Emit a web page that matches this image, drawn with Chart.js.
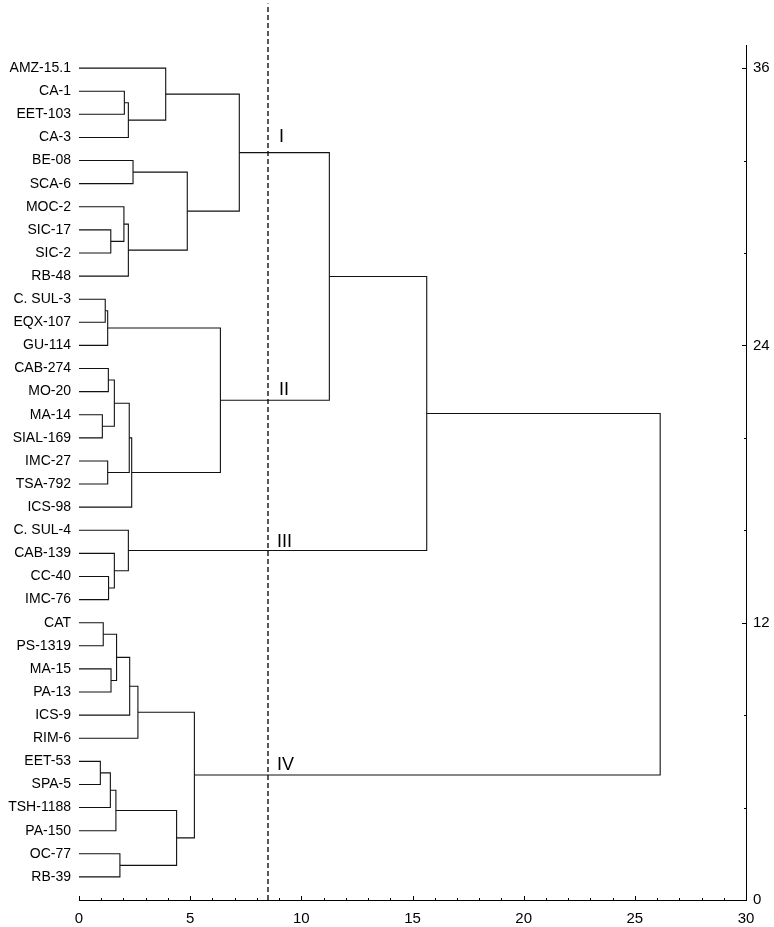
<!DOCTYPE html>
<html>
<head>
<meta charset="utf-8">
<script src="https://cdn.jsdelivr.net/npm/chart.js@4"></script>
<style>
  html, body { margin: 0; padding: 0; background: #fff; }
  #wrap { width: 774px; height: 927px; }
</style>
</head>
<body>
<div id="wrap"><canvas id="dendrogram"></canvas></div>
<script>
// leaves, top to bottom
var leaves = [
  'AMZ-15.1', 'CA-1', 'EET-103', 'CA-3', 'BE-08', 'SCA-6', 'MOC-2', 'SIC-17', 'SIC-2', 'RB-48',
  'C. SUL-3', 'EQX-107', 'GU-114', 'CAB-274', 'MO-20', 'MA-14', 'SIAL-169', 'IMC-27', 'TSA-792', 'ICS-98',
  'C. SUL-4', 'CAB-139', 'CC-40', 'IMC-76',
  'CAT', 'PS-1319', 'MA-15', 'PA-13', 'ICS-9', 'RIM-6', 'EET-53', 'SPA-5', 'TSH-1188', 'PA-150', 'OC-77', 'RB-39'
];

// merges: a number refers to an earlier merge, a string to a leaf
var mergeLeft   = ['CA-1', 0, 'AMZ-15.1', 'BE-08', 'SIC-17', 'MOC-2', 5, 3, 2,
                   'C. SUL-3', 9, 'CAB-274', 'MA-14', 11, 'IMC-27', 13, 15, 10, 8,
                   'CC-40', 'CAB-139', 'C. SUL-4', 18,
                   'CAT', 'MA-15', 23, 25, 26, 'EET-53', 28, 29, 'OC-77', 30, 27, 22];
var mergeRight  = ['EET-103', 'CA-3', 1, 'SCA-6', 'SIC-2', 4, 'RB-48', 6, 7,
                   'EQX-107', 'GU-114', 'MO-20', 'SIAL-169', 12, 'TSA-792', 14, 'ICS-98', 16, 17,
                   'IMC-76', 19, 20, 21,
                   'PS-1319', 'PA-13', 24, 'ICS-9', 'RIM-6', 'SPA-5', 'TSH-1188', 'PA-150', 'RB-39', 31, 32, 33];
var mergeHeight = [2.04, 2.22, 3.90, 2.43, 1.43, 2.02, 2.22, 4.87, 7.21,
                   1.18, 1.29, 1.32, 1.05, 1.59, 1.29, 2.26, 2.37, 6.36, 11.26,
                   1.33, 1.59, 2.22, 15.64,
                   1.09, 1.44, 1.69, 2.28, 2.65, 0.96, 1.41, 1.66, 1.84, 4.39, 5.19, 26.14];

var cutLevel = 8.5;
var groupNames = ['I', 'II', 'III', 'IV'];
var groupX = [9.0, 9.0, 8.9, 8.9];
var groupY = [32.8, 21.85, 15.27, 5.63];

var xTicks = [0, 5, 10, 15, 20, 25, 30];
var xMinorTicks = [0, 1, 2, 3, 4, 5, 6, 7, 8, 9, 10, 11, 12, 13, 14, 15, 16, 17, 18, 19, 20,
                   21, 22, 23, 24, 25, 26, 27, 28, 29, 30];
var rightTicks = [0, 12, 24, 36];
var rightMinorTicks = [0, 4, 8, 12, 16, 20, 24, 28, 32, 36];

var leafY = {};
leaves.forEach(function(name, i) { leafY[name] = leaves.length - i; });

var nodeY = [];
function nodePos(ref) {
  if (typeof ref === 'number') return { x: mergeHeight[ref], y: nodeY[ref] };
  return { x: 0, y: leafY[ref] };
}

var datasets = [];
mergeLeft.forEach(function(a, i) {
  var pa = nodePos(a);
  var pb = nodePos(mergeRight[i]);
  var h = mergeHeight[i];
  nodeY[i] = (pa.y + pb.y) / 2;
  datasets.push({
    data: [{ x: pa.x, y: pa.y }, { x: h, y: pa.y }, { x: h, y: pb.y }, { x: pb.x, y: pb.y }],
    showLine: true,
    borderColor: '#111',
    borderWidth: 1.1,
    pointRadius: 0,
    fill: false
  });
});

datasets.push({
  data: [{ x: cutLevel, y: 0 }, { x: cutLevel, y: 38.8 }],
  showLine: true,
  borderColor: '#000',
  borderWidth: 1.3,
  borderDash: [5, 3],
  pointRadius: 0,
  clip: false
});

var innerTicks = {
  id: 'innerTicks',
  afterDraw: function(chart) {
    var ctx = chart.ctx;
    var x = chart.scales.x, y2 = chart.scales.y2;
    ctx.save();
    ctx.strokeStyle = '#000';
    ctx.lineWidth = 1;
    ctx.beginPath();
    xMinorTicks.forEach(function(v) {
      var px = Math.round(x.getPixelForValue(v)) + 0.5;
      var len = xTicks.indexOf(v) >= 0 ? 4 : 2;
      ctx.moveTo(px, x.top);
      ctx.lineTo(px, x.top - len);
    });
    rightMinorTicks.forEach(function(v) {
      var py = Math.round(y2.getPixelForValue(v)) + 0.5;
      var len = rightTicks.indexOf(v) >= 0 ? 4 : 2;
      ctx.moveTo(y2.left, py);
      ctx.lineTo(y2.left - len, py);
    });
    ctx.stroke();

    var ys = chart.scales.y;
    ctx.fillStyle = '#000';
    ctx.font = '18px "Liberation Sans", Arial, sans-serif';
    ctx.textAlign = 'left';
    ctx.textBaseline = 'alphabetic';
    groupNames.forEach(function(name, i) {
      ctx.fillText(name, x.getPixelForValue(groupX[i]), ys.getPixelForValue(groupY[i]));
    });
    ctx.restore();
  }
};

Chart.defaults.font.family = '"Liberation Sans", Arial, sans-serif';
Chart.defaults.font.size = 14;
Chart.defaults.color = '#000';

var chart = new Chart(document.getElementById('dendrogram'), {
  type: 'scatter',
  data: { datasets: datasets },
  options: {
    responsive: true,
    maintainAspectRatio: false,
    animation: false,
    layout: { padding: { top: 45, left: 0, right: 0, bottom: 0 } },
    plugins: { legend: { display: false }, tooltip: { enabled: false } },
    scales: {
      x: {
        type: 'linear',
        position: 'bottom',
        min: 0,
        max: 30,
        afterBuildTicks: function(s) { s.ticks = xTicks.map(function(v) { return { value: v }; }); },
        afterFit: function(s) { s.height = 27; },
        grid: { display: false, drawTicks: false },
        border: { display: true, color: '#000', width: 1 },
        ticks: { padding: 10, maxRotation: 0, autoSkip: false, font: { size: 15 } }
      },
      y: {
        type: 'linear',
        position: 'left',
        min: 0,
        max: 37,
        afterBuildTicks: function(s) {
          s.ticks = leaves.map(function(name) { return { value: leafY[name] }; });
        },
        afterFit: function(s) { s.width = 79; },
        grid: { display: false, drawTicks: false },
        border: { display: false },
        ticks: {
          padding: 8,
          autoSkip: false,
          callback: function(v) { return leaves[leaves.length - v]; }
        }
      },
      y2: {
        type: 'linear',
        position: 'right',
        min: 0,
        max: 37,
        afterBuildTicks: function(s) { s.ticks = rightTicks.map(function(v) { return { value: v }; }); },
        afterFit: function(s) { s.width = 28; },
        grid: { display: false, drawTicks: false },
        border: { display: true, color: '#000', width: 1 },
        ticks: { padding: 7, autoSkip: false, font: { size: 15 } }
      }
    }
  },
  plugins: [innerTicks]
});
</script>
</body>
</html>
